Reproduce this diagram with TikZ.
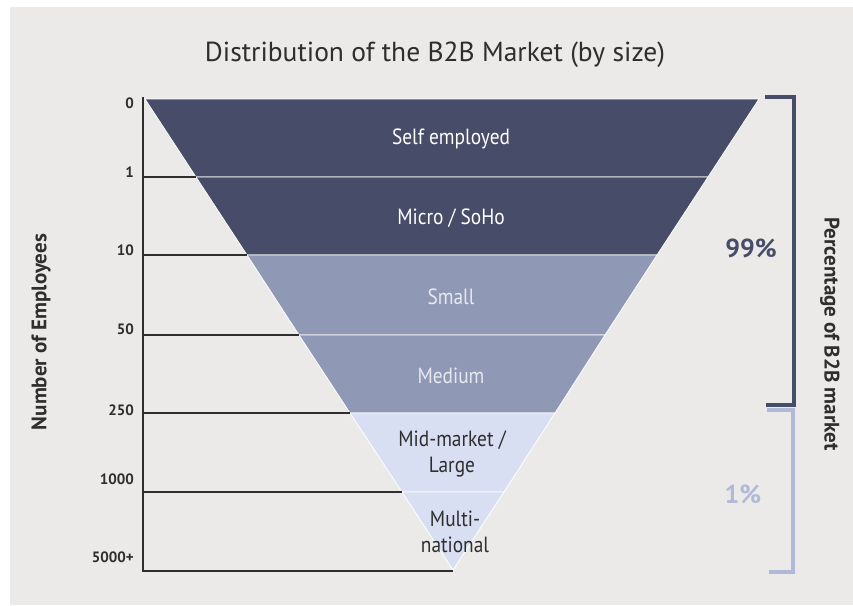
\documentclass[tikz,border=0pt]{standalone}
\usepackage{fontspec}
\setmainfont{PT Sans}
\newfontfamily\condfont{PT Sans}[FakeStretch=0.88]
\definecolor{bg}{HTML}{EBEAE8}
\definecolor{darkb}{HTML}{474C68}
\definecolor{midb}{HTML}{8F98B5}
\definecolor{lightb}{HTML}{D9DFF2}
\definecolor{brlight}{HTML}{B0BAD8}
\definecolor{txt}{HTML}{2E2E2E}
\definecolor{midtxt}{HTML}{E8E9EF}
\begin{document}
\begin{tikzpicture}[x=1pt,y=-1pt,
  band/.style={draw=white,line width=0.8pt},
  bandtxt/.style={font=\condfont\fontsize{22}{26}\selectfont,align=center},
  ticklbl/.style={font=\bfseries\fontsize{15}{17}\selectfont,anchor=east,text=txt,inner sep=0pt},
  axisline/.style={draw=txt,line width=2.2pt},
  bracket/.style={line width=3.8pt},
  sidelbl/.style={font=\bfseries\fontsize{21}{24}\selectfont,text=txt}]
\useasboundingbox (0,0) rectangle (853,605);
\fill[white] (0,0) rectangle (853,605);
\fill[bg] (10,7) rectangle (853,605);
% title
\node[font=\fontsize{27.5}{31}\selectfont,text=txt] (title) at (435,55) {Distribution of the B2B Market (by size)};
% funnel boundary coordinates
\coordinate (L0) at (145,99);  \coordinate (R0) at (759,99);
\coordinate (L1) at (196,177); \coordinate (R1) at (708,177);
\coordinate (L2) at (247,255); \coordinate (R2) at (657,255);
\coordinate (L3) at (299,335); \coordinate (R3) at (605,335);
\coordinate (L4) at (350,413); \coordinate (R4) at (555,413);
\coordinate (L5) at (402,492); \coordinate (R5) at (504,492);
\coordinate (A) at (453,570);
% bands
\fill[darkb,band] (L0) -- (R0) -- (R1) -- (L1) -- cycle;
\fill[darkb,band] (L1) -- (R1) -- (R2) -- (L2) -- cycle;
\fill[midb,band] (L2) -- (R2) -- (R3) -- (L3) -- cycle;
\fill[midb,band] (L3) -- (R3) -- (R4) -- (L4) -- cycle;
\fill[lightb,band] (L4) -- (R4) -- (R5) -- (L5) -- cycle;
\fill[lightb,band] (L5) -- (R5) -- (A) -- cycle;
% band labels
\node[bandtxt,text=white] (b1) at (451,139) {Self employed};
\node[bandtxt,text=white] (b2) at (451,218) {Micro / SoHo};
\node[bandtxt,text=midtxt] (b3) at (451,297) {Small};
\node[bandtxt,text=midtxt] (b4) at (451,376) {Medium};
\node[bandtxt,text=txt] (b5) at (452,454) {Mid-market /\\Large};
\node[bandtxt,text=txt] (b6) at (455,532) {Multi-\\national};
% axis
\coordinate (Y0) at (143,97);
\coordinate (Y1) at (143,177);
\coordinate (Y2) at (143,255);
\coordinate (Y3) at (143,335);
\coordinate (Y4) at (143,413);
\coordinate (Y5) at (143,492);
\coordinate (Y6) at (143,571);
\coordinate (B6) at (453,571);
\draw[axisline] (Y0) -- (Y6) -- (B6);
\draw[axisline] (Y1) -- (L1);
\draw[axisline] (Y2) -- (L2);
\draw[axisline] (Y3) -- (L3);
\draw[axisline] (Y4) -- (L4);
\draw[axisline] (Y5) -- (L5);
% tick labels
\node[ticklbl] (t0) at (134,103) {0};
\node[ticklbl] (t1) at (134,172) {1};
\node[ticklbl] (t2) at (134,250) {10};
\node[ticklbl] (t3) at (134,329) {50};
\node[ticklbl] (t4) at (134,410) {250};
\node[ticklbl] (t5) at (134,479) {1000};
\node[ticklbl] (t6) at (134,557) {5000+};
% axis titles
\node[sidelbl,rotate=90] (ylab) at (41,332) {Number of Employees};
\node[sidelbl,rotate=-90] (rlab) at (830,334) {Percentage of B2B market};
% brackets
\coordinate (k1a) at (765,97); \coordinate (k1b) at (794,97);
\coordinate (k1c) at (794,405); \coordinate (k1d) at (766,405);
\draw[bracket,darkb] (k1a) -- (k1b) -- (k1c) -- (k1d);
\coordinate (k2a) at (767,410); \coordinate (k2b) at (793,410);
\coordinate (k2c) at (793,572); \coordinate (k2d) at (769,572);
\draw[bracket,brlight] (k2a) -- (k2b) -- (k2c) -- (k2d);
\node[font=\bfseries\fontsize{26}{28}\selectfont,text=darkb] (p99) at (751,248) {99\%};
\node[font=\bfseries\fontsize{26}{28}\selectfont,text=brlight] (p1) at (743,494) {1\%};
\end{tikzpicture}
\end{document}
